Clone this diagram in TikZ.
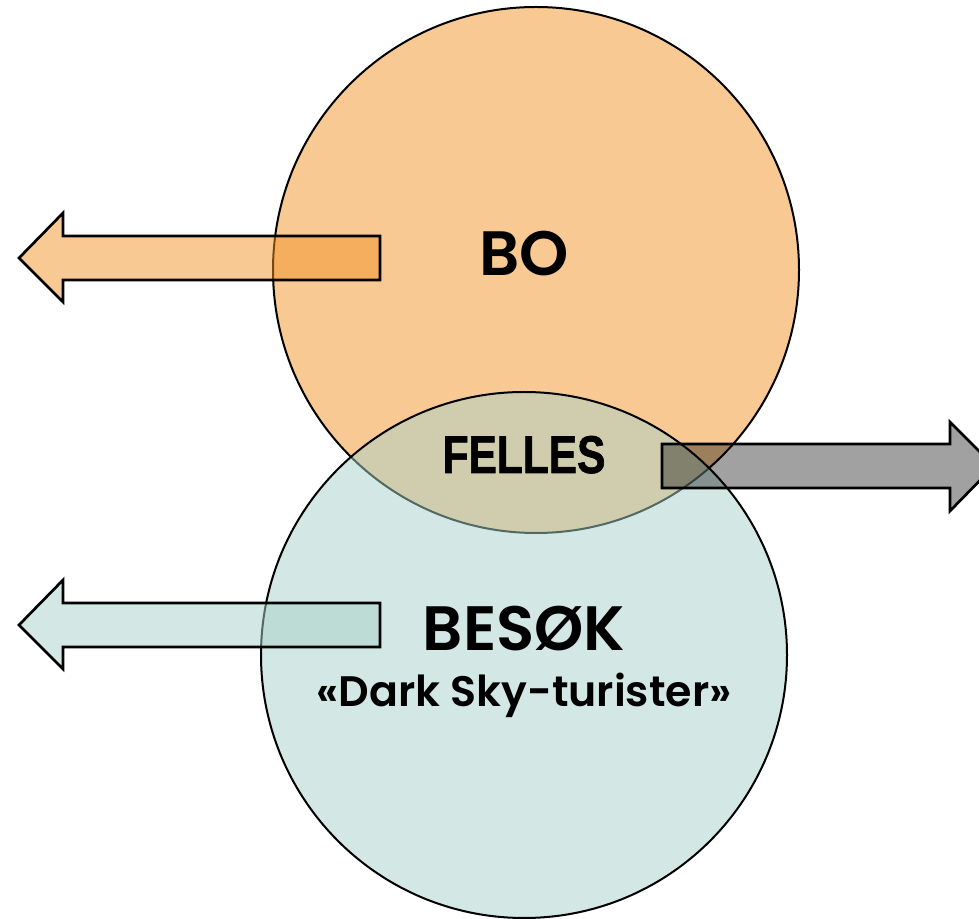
\documentclass[tikz,border=0pt]{standalone}
\usepackage{fontspec}
\setmainfont{Poppins}[BoldFont={Poppins SemiBold}]
\newfontfamily\narrowfont{LiberationSans-Bold}[FakeStretch=0.8, FakeBold=1.2]
\definecolor{orfill}{HTML}{F9C994}
\definecolor{orarrow}{HTML}{F39329}
\definecolor{teal1}{RGB}{167,209,201}
\begin{document}
\begin{tikzpicture}[x=0.75pt,y=-0.75pt,
  ring/.style={circle, draw=black, line width=1.5pt, minimum size=394.5pt, inner sep=0pt, outer sep=0pt},
  arrowshape/.style={draw=black, line width=2pt, line join=miter},
  lbl/.style={anchor=base, inner sep=0pt, font=\bfseries}]
\useasboundingbox (0,0) rectangle (979,919);
\clip (0,0) rectangle (979,919);
\node[ring, fill=orfill] (bo) at (536,270) {};
\draw[arrowshape, fill=orarrow, fill opacity=0.5] (380,236) -- (63,236) -- (63,213) -- (19,258) -- (63,302) -- (63,280) -- (380,280) -- cycle;
\node[ring, fill=teal1, fill opacity=0.5] (besok) at (524,655) {};
\draw[arrowshape, fill=teal1, fill opacity=0.5] (380,603) -- (63,603) -- (63,580) -- (19,625) -- (63,669) -- (63,647) -- (380,647) -- cycle;
\draw[arrowshape, fill=black, fill opacity=0.37] (662,444) -- (950,444) -- (950,422) -- (994,466) -- (950,511) -- (950,488) -- (662,488) -- cycle;
\node[lbl, font=\bfseries\fontsize{47}{50}\selectfont] (tbo) at (524,276) {BO};
\node[lbl, font=\narrowfont\fontsize{39.8}{44}\selectfont] (tfelles) at (524,473) {FELLES};
\node[lbl, font=\bfseries\fontsize{47}{50}\selectfont] (tbesok) at (524,651) {BESØK};
\node[lbl, font=\bfseries\fontsize{32}{36}\selectfont] (tdark) at (524,707) {«Dark Sky-turister»};
\end{tikzpicture}
\end{document}
